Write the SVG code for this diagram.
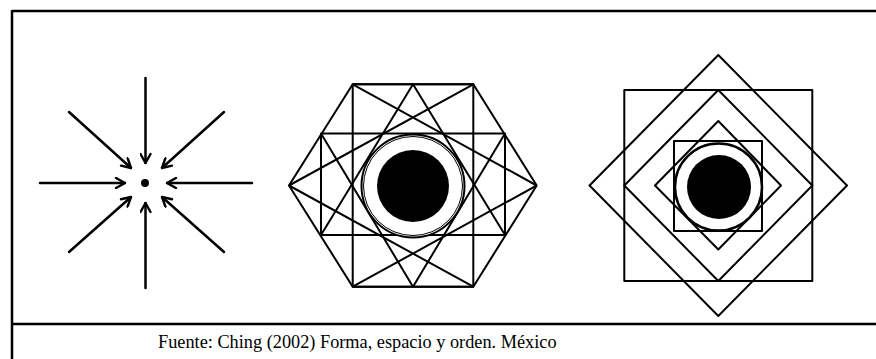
<svg xmlns="http://www.w3.org/2000/svg" width="876" height="359" viewBox="0 0 876 359">
<defs>
<style>
.ln{stroke:#000;stroke-width:2.5;fill:none;stroke-linecap:round;stroke-linejoin:round}
.hx{stroke:#000;stroke-width:2;fill:none;stroke-linejoin:round}
.fr{stroke:#000;stroke-width:2.5;fill:none}
.cap{font-family:"Liberation Serif","Times New Roman",serif;font-size:18.3px;fill:#000}
</style>
<marker id="ah" viewBox="0 0 12 12" refX="11" refY="6" markerWidth="12" markerHeight="12" markerUnits="userSpaceOnUse" orient="auto">
<path d="M2,1 L11,6 L2,11" fill="none" stroke="#000" stroke-width="2.4" stroke-linecap="round" stroke-linejoin="round"/>
</marker>
</defs>
<rect width="876" height="359" fill="#fff"/>
<g id="frame">
<line class="fr" x1="12" y1="11" x2="876" y2="11"/>
<line class="fr" x1="12" y1="324" x2="876" y2="324"/>
<line class="fr" x1="12" y1="10" x2="12" y2="359"/>
</g>
<g id="arrows">
<circle cx="145" cy="183" r="4" fill="#000"/>
<g class="connectors">
<line class="ln" x1="145.5" y1="78" x2="145.5" y2="163" marker-end="url(#ah)"/>
<line class="ln" x1="145.5" y1="288" x2="145.5" y2="203" marker-end="url(#ah)"/>
<line class="ln" x1="40" y1="183" x2="125" y2="183" marker-end="url(#ah)"/>
<line class="ln" x1="252" y1="183" x2="167" y2="183" marker-end="url(#ah)"/>
<line class="ln" x1="69" y1="112" x2="131" y2="168" marker-end="url(#ah)"/>
<line class="ln" x1="224" y1="112" x2="162" y2="168" marker-end="url(#ah)"/>
<line class="ln" x1="69" y1="252" x2="131" y2="197" marker-end="url(#ah)"/>
<line class="ln" x1="224" y1="252" x2="162" y2="197" marker-end="url(#ah)"/>
</g>
</g>
<g id="hexagon">
<polygon class="hx" points="352.7,84.3 473.3,84.3 536.7,185.5 473.3,286.7 352.7,286.7 289,185.5"/>
<rect class="hx" x="352.7" y="84.3" width="120.6" height="202.4"/>
<rect class="hx" x="321" y="133.5" width="184" height="101.5"/>
<path class="hx" d="M413,84.3 L321,235 M413,84.3 L505,235 M413,286.7 L321,133.5 M413,286.7 L505,133.5 M289,185.5 L473.3,84.3 M289,185.5 L473.3,286.7 M536.7,185.5 L352.7,84.3 M536.7,185.5 L352.7,286.7"/>
<circle cx="413" cy="186" r="51.5" fill="#fff" stroke="#000" stroke-width="2"/>
<circle cx="413" cy="186" r="49.5" fill="none" stroke="#000" stroke-width="1"/>
<circle cx="413" cy="186" r="36" fill="#000"/>
</g>
<g id="squares">
<polygon class="hx" points="718.3,55 847,185.5 718.3,316 589.5,185.5" stroke-width="2.5"/>
<rect class="hx" x="624.3" y="90" width="188" height="191" stroke-width="2.5"/>
<polygon class="hx" points="718.3,90 812.3,185.5 718.3,281 624.3,185.5" stroke-width="2.5"/>
<polygon class="hx" points="718.3,121 781,185.5 718.3,249.5 655,185.5" stroke-width="2.5"/>
<rect class="hx" x="674" y="141" width="88" height="90" stroke-width="2.5"/>
<circle cx="718.5" cy="187" r="43.5" fill="#fff" stroke="#000" stroke-width="2.5"/>
<circle cx="719" cy="187" r="32" fill="#000"/>
</g>
<text class="cap" x="158" y="348">Fuente: Ching (2002) Forma, espacio y orden. México</text>
</svg>
